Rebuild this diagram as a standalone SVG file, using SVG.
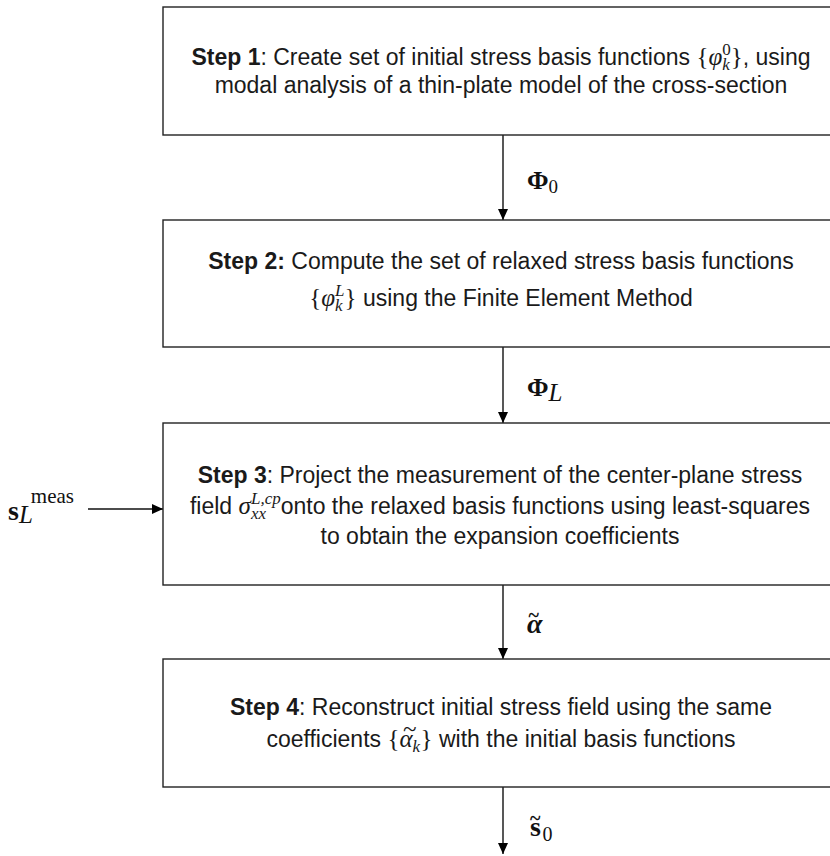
<svg xmlns="http://www.w3.org/2000/svg" width="830" height="856" viewBox="0 0 830 856">
  <style>
    .box { fill: #ffffff; stroke: #222222; stroke-width: 1.4; }
    .edge { fill: none; stroke: #111111; stroke-width: 1.4; marker-end: url(#arrow); }
    .t { font-family: "Liberation Sans", Arial, sans-serif; font-size: 23px; fill: #1a1a1a; text-anchor: middle; }
    .b { font-weight: bold; }
    .mi { font-family: "Liberation Serif", "DejaVu Serif", serif; font-style: italic; font-size: 25px; }
    .mr { font-family: "Liberation Serif", "DejaVu Serif", serif; font-style: normal; font-size: 25px; }
    .s { font-size: 17px; }
    .lbl { font-family: "Liberation Serif", "DejaVu Serif", serif; font-size: 26px; fill: #111111; }
  </style>
  <defs>
    <marker id="arrow" viewBox="0 0 11 10" refX="11" refY="5" markerWidth="11" markerHeight="10" markerUnits="userSpaceOnUse" orient="auto">
      <path d="M0,0 L11,5 L0,10 z" fill="#000000"/>
    </marker>
  </defs>

  <!-- connectors -->
  <g id="connectors">
    <line class="edge" x1="503" y1="135" x2="503" y2="220"/>
    <line class="edge" x1="503" y1="347" x2="503" y2="423"/>
    <line class="edge" x1="503" y1="585" x2="503" y2="659"/>
    <line class="edge" x1="503" y1="787" x2="503" y2="854"/>
    <line class="edge" x1="88" y1="509" x2="163" y2="509"/>
  </g>

  <!-- Step 1 -->
  <g id="step1">
    <rect class="box" x="163" y="7" width="690" height="128"/>
    <text class="t" x="501" y="65"><tspan class="b">Step 1</tspan>: Create set of initial stress basis functions <tspan class="mr">{</tspan><tspan class="mi">φ</tspan><tspan class="mi s" dy="5">k</tspan><tspan class="mr s" dx="-7.5" dy="-15">0</tspan><tspan class="mr" dy="10">}</tspan>, using</text>
    <text class="t" x="501" y="93">modal analysis of a thin-plate model of the cross-section</text>
  </g>

  <!-- Step 2 -->
  <g id="step2">
    <rect class="box" x="163" y="220" width="690" height="127"/>
    <text class="t" x="501" y="269"><tspan class="b">Step 2:</tspan> Compute the set of relaxed stress basis functions</text>
    <text class="t" x="501" y="306"><tspan class="mr">{</tspan><tspan class="mi">φ</tspan><tspan class="mi s" dy="5">k</tspan><tspan class="mi s" dx="-7.5" dy="-15">L</tspan><tspan class="mr" dy="10">}</tspan> using the Finite Element Method</text>
  </g>

  <!-- Step 3 -->
  <g id="step3">
    <rect class="box" x="163" y="423" width="690" height="162"/>
    <text class="t" x="500" y="483"><tspan class="b">Step 3</tspan>: Project the measurement of the center-plane stress</text>
    <text class="t" x="500" y="514">field <tspan class="mi">σ</tspan><tspan class="mi s" dy="5">xx</tspan><tspan class="mi s" dx="-15" dy="-15">L,cp</tspan><tspan dy="10">onto the relaxed basis functions using least-squares</tspan></text>
    <text class="t" x="500" y="544">to obtain the expansion coefficients</text>
  </g>

  <!-- measured input -->
  <g id="input">
    <text class="lbl" x="8" y="520"><tspan font-weight="bold" font-size="28">s</tspan><tspan class="mi" font-size="20" dy="3">L</tspan><tspan font-size="21" dx="-2" dy="-20">meas</tspan></text>
  </g>

  <!-- Step 4 -->
  <g id="step4">
    <rect class="box" x="163" y="659" width="690" height="128"/>
    <text class="t" x="501" y="715"><tspan class="b">Step 4</tspan>: Reconstruct initial stress field using the same</text>
    <text class="t" x="501" y="747">coefficients <tspan class="mr">{</tspan><tspan class="mi">α</tspan><tspan class="mi s" dy="5">k</tspan><tspan class="mr" font-size="24" dx="-17" dy="-15">~</tspan><tspan class="mr" dx="4" dy="10">}</tspan> with the initial basis functions</text>
  </g>

  <!-- edge labels -->
  <g id="labels">
    <text class="lbl" x="527" y="189"><tspan font-weight="bold">Φ</tspan><tspan font-size="19" dy="4">0</tspan></text>
    <text class="lbl" x="527" y="396"><tspan font-weight="bold">Φ</tspan><tspan class="mi" font-size="19" dy="5">L</tspan></text>
    <text class="lbl" x="527" y="633" font-weight="bold"><tspan font-style="italic" font-size="28">α</tspan><tspan font-size="20" dx="-14" dy="-11">~</tspan></text>
    <text class="lbl" x="530" y="836"><tspan font-weight="bold" font-size="28">s</tspan><tspan font-weight="bold" font-size="20" dx="-11" dy="-11">~</tspan><tspan font-size="20" dx="2" dy="16">0</tspan></text>
  </g>
</svg>
